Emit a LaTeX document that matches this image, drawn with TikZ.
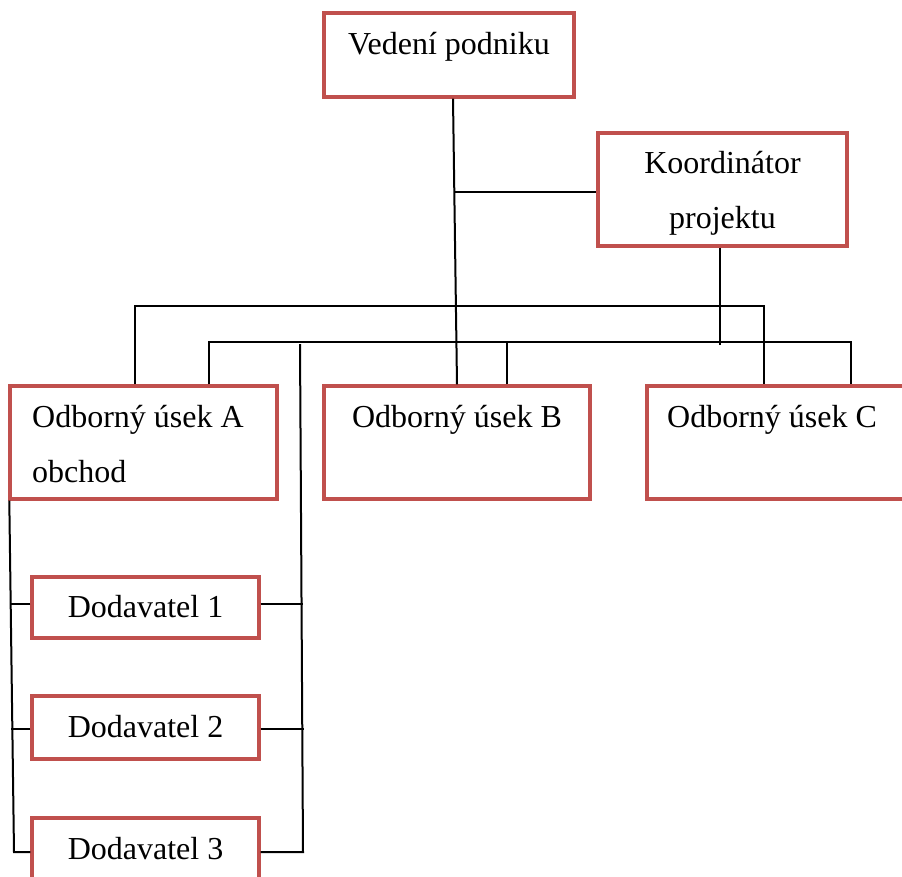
\documentclass[tikz,border=0pt]{standalone}
\usepackage{fontspec}
\setmainfont{Liberation Serif}
\begin{document}
\begin{tikzpicture}[x=1pt,y=-1pt,
  box/.style={draw=boxred,line width=3.4pt,minimum width=#1,inner sep=0pt},
  lbl/.style={inner sep=0pt,font=\fontsize{32}{38}\selectfont},
  link/.style={draw=black,line width=2pt}]
\definecolor{boxred}{HTML}{C0504D}
\useasboundingbox (0,0) rectangle (902,876);
\clip (0,0) rectangle (902,876);
\fill[white] (0,0) rectangle (902,876);

% boxes
\node[box=250pt,minimum height=84pt]  (ved)   at (449,55)    {};
\node[box=249pt,minimum height=113pt] (koord) at (722.5,189.5) {};
\node[box=267pt,minimum height=113pt] (a)     at (143.5,442.5) {};
\node[box=266pt,minimum height=113pt] (b)     at (457,442.5) {};
\node[box=266pt,minimum height=113pt] (c)     at (780,442.5) {};
\node[box=227pt,minimum height=61pt]  (d1)    at (145.5,607.5) {};
\node[box=227pt,minimum height=63pt]  (d2)    at (145.5,727.5) {};
\node[box=227pt,minimum height=62pt]  (d3)    at (145.5,849) {};

% labels
\node[lbl,anchor=base] (tved) at (449,54) {Vedení podniku};
\node[lbl,anchor=base] (tk1) at (722.5,173) {Koordinátor};
\node[lbl,anchor=base] (tk2) at (722.5,228) {projektu};
\node[lbl,anchor=base west] (ta1) at (32,427) {Odborný úsek A};
\node[lbl,anchor=base west] (ta2) at (32,482) {obchod};
\node[lbl,anchor=base] (tb) at (457,427) {Odborný úsek B};
\node[lbl,anchor=base west] (tc) at (667,427) {Odborný úsek C};
\node[lbl,anchor=base] (td1) at (145.5,617) {Dodavatel 1};
\node[lbl,anchor=base] (td2) at (145.5,737) {Dodavatel 2};
\node[lbl,anchor=base] (td3) at (145.5,859) {Dodavatel 3};

% junction points
\coordinate (kj) at (454,192);
\coordinate (lowbus) at (300,344);
\coordinate (leftend) at (14,852);
\coordinate (rightend) at (303,852);

% trunk from management down to section B
\draw[link] ([xshift=4pt]ved.south) -- (b.north);
% coordinator link
\draw[link] (kj) -- ([yshift=-2.5pt]koord.west);
% coordinator down to the lower bus
\draw[link] ([xshift=-2.5pt]koord.south) -- ++(0,97);
% upper bus: A to C
\draw[link] ([xshift=-8.5pt]a.north) -- ++(0,-78) -| ([xshift=-16pt]c.north);
% lower bus: A to C with drop to B
\draw[link] ([xshift=65.5pt]a.north) -- ++(0,-42) -| ([xshift=71pt]c.north);
\draw[link] ([xshift=50pt]b.north) -- ++(0,-42);
% supplier trunks
\draw[link] ([xshift=1pt]a.south west) -- (leftend) -- ([yshift=-3pt]d3.west);
\draw[link] (lowbus) -- (rightend) -- ([yshift=-3pt]d3.east);
\draw[link] ([yshift=3.5pt]d1.west) -- ++(-20,0);
\draw[link] ([yshift=-1.5pt]d2.west) -- ++(-19,0);
\draw[link] ([yshift=3.5pt]d1.east) -- ++(42,0);
\draw[link] ([yshift=-1.5pt]d2.east) -- ++(43,0);
\end{tikzpicture}
\end{document}
